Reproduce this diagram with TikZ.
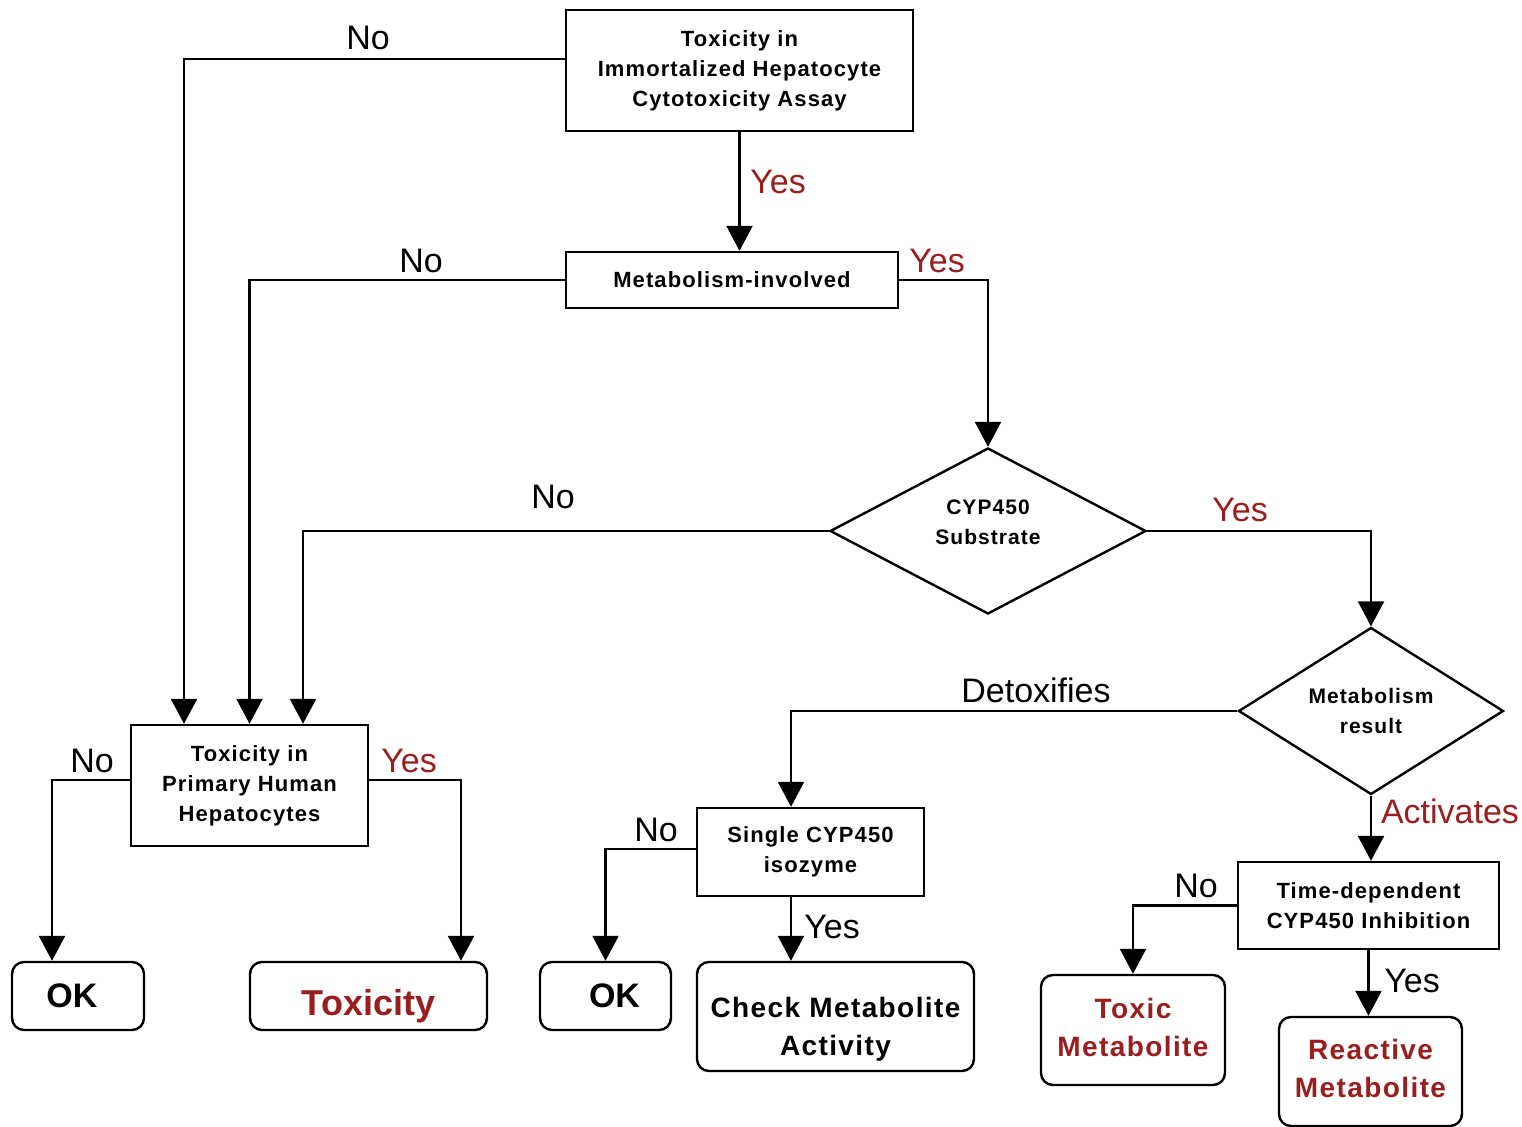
\documentclass[tikz,border=0pt]{standalone}
\usepackage{fontspec}
\setmainfont{Liberation Sans}
\newfontfamily\boxfont[LetterSpace=5]{Liberation Sans}
\usetikzlibrary{shapes.geometric,arrows.meta,calc}
\definecolor{dred}{RGB}{155,30,30}
\tikzset{
  box/.style={draw, line width=1.2pt, inner sep=2pt, align=center,
    font=\boxfont\bfseries\fontsize{11}{15}\selectfont},
  term/.style={draw, rounded corners=6pt, line width=1.2pt, inner sep=2pt, align=center,
    font=\boxfont\bfseries\fontsize{14}{19}\selectfont},
  dia/.style={draw, diamond, aspect=1.9, inner sep=0pt, line width=1.2pt, align=center,
    font=\boxfont\bfseries\fontsize{10.5}{15}\selectfont},
  arr/.style={line width=1.2pt, -{Triangle[width=13pt,length=12.5pt]}},
  lab/.style={font=\fontsize{17}{20}\selectfont, inner sep=0pt},
  ylab/.style={lab, text=dred}
}
\begin{document}
\begin{tikzpicture}[x=0.5pt,y=-0.5pt]
\useasboundingbox (0,0) rectangle (1522,1127);
% boxes
\node[box, minimum width=173.5pt, minimum height=60.5pt] (b1) at (739.5,70.5)
  {Toxicity in\\Immortalized Hepatocyte\\Cytotoxicity Assay};
\node[box, minimum width=166pt, minimum height=28pt] (b2) at (732,280) {Metabolism-involved};
\node[dia, minimum width=158pt, minimum height=83pt] (d1) at (988,531) {CYP450\\Substrate\rule[-9pt]{0pt}{0pt}};
\node[dia, minimum width=132.5pt, minimum height=83.5pt] (d2) at (1371,711) {Metabolism\\result};
\node[box, minimum width=118.5pt, minimum height=60.5pt] (b3) at (249.5,785.5)
  {Toxicity in\\Primary Human\\Hepatocytes};
\node[box, minimum width=113.5pt, minimum height=44pt] (b4) at (810.5,852) {Single CYP450\\isozyme};
\node[box, minimum width=130.5pt, minimum height=43.5pt] (b5) at (1368.5,905.5)
  {Time-dependent\\CYP450 Inhibition};
% terminals
\node[term, minimum width=66pt, minimum height=34pt, font=\bfseries\fontsize{17}{20}\selectfont] (ok1) at (78,996) {\hspace*{-6pt}OK};
\node[term, minimum width=118.5pt, minimum height=34pt, text=dred, font=\bfseries\fontsize{18}{20}\selectfont] (tox) at (368.5,996) {\smash{\raisebox{-10pt}{Toxicity}}};
\node[term, minimum width=65.5pt, minimum height=34pt, font=\bfseries\fontsize{17}{20}\selectfont] (ok2) at (605.5,996) {\hspace*{9pt}OK};
\node[term, minimum width=138.5pt, minimum height=54.5pt] (ck) at (835.5,1016.5) {\rule{0pt}{23pt}Check Metabolite\\Activity};
\node[term, minimum width=92pt, minimum height=55pt, text=dred] (tm) at (1133,1030) {Toxic\\Metabolite\rule[-3pt]{0pt}{0pt}};
\node[term, minimum width=91.5pt, minimum height=54.5pt, text=dred] (rm) at (1370.5,1071.5) {Reactive\\Metabolite\rule[-3pt]{0pt}{0pt}};
% connectors
\draw[arr] ([yshift=5.75pt]b1.west) -| ([xshift=-32.75pt]b3.north);
\draw[arr] (b1.south) -- (b1.south |- b2.north);
\draw[arr] (b2.west) -| (b3.north);
\draw[arr] (b2.east) -| (d1.north);
\draw[arr] (d1.west) -| ([xshift=26.75pt]b3.north);
\draw[arr] (d1.east) -| (d2.north);
\draw[arr] (d2.west) -| ([xshift=-9.75pt]b4.north);
\draw[arr] (d2.south) -- (d2.south |- b5.north);
\draw[arr] ([yshift=2.75pt]b3.west) -| ([xshift=-13pt]ok1.north);
\draw[arr] ([yshift=2.75pt]b3.east) -| ([xshift=46.25pt]tox.north);
\draw[arr] ([yshift=1.5pt]b4.west) -| (ok2.north);
\draw[arr] ([xshift=-9.75pt]b4.south) -- ([xshift=-9.75pt]b4.south |- ck.north);
\draw[arr] (b5.west) -| (tm.north);
\draw[arr] (b5.south) -- (b5.south |- rm.north);
% labels
\node[lab] (l1) at (368,38) {No};
\node[ylab] (l2) at (778,182) {Yes};
\node[lab] (l3) at (421,261) {No};
\node[ylab] (l4) at (937,261) {Yes};
\node[lab] (l5) at (553,497) {No};
\node[ylab] (l6) at (1240,510) {Yes};
\node[lab] (l7) at (1036,690) {Detoxifies};
\node[ylab] (l8) at (1450,811) {Activates};
\node[lab] (l9) at (92,761) {No};
\node[ylab] (l10) at (409,761) {Yes};
\node[lab] (l11) at (656,830) {No};
\node[lab] (l12) at (832,927) {Yes};
\node[lab] (l13) at (1196,886) {No};
\node[lab] (l14) at (1412,981) {Yes};
\end{tikzpicture}
\end{document}
